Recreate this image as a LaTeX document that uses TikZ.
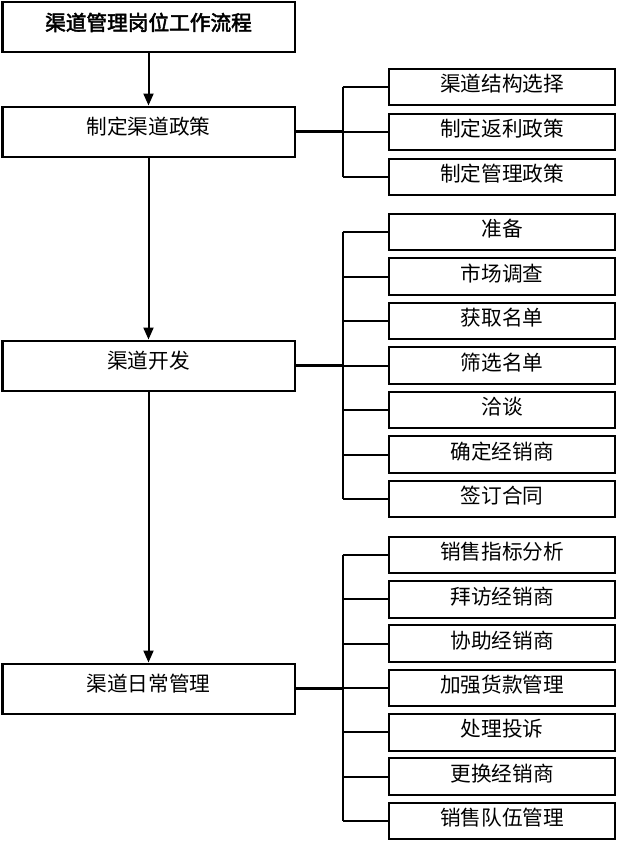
\documentclass[tikz,border=0pt]{standalone}
\usepackage{fontspec}
\newfontfamily\cjk{Noto Sans CJK SC}[AutoFakeBold=2.5]
\usetikzlibrary{arrows.meta,positioning}
\begin{document}
\begin{tikzpicture}[x=0.75pt,y=-0.75pt,
    mainbox/.style={draw,line width=1.5pt,minimum width=219pt,minimum height=37.5pt,inner sep=0pt,text height=12pt,text depth=7pt,font=\cjk\fontsize{15.5}{17}\selectfont},
    subbox/.style={draw,line width=1.5pt,minimum width=170pt,minimum height=27.5pt,inner sep=0pt,text height=12pt,text depth=5pt,font=\cjk\fontsize{15.5}{17}\selectfont},
    flow/.style={line width=1.5pt,-{Triangle[width=7.5pt,length=9pt]}},
    tee/.style={line width=2.25pt},
    branch/.style={line width=1.5pt}]
  \useasboundingbox (0,0) rectangle (618,843);
  %colonna principale
  \node[mainbox,font=\cjk\bfseries\fontsize{15.5}{17}\selectfont] (title) at (148.5,27) {渠道管理岗位工作流程};
  \node[mainbox] (policy) at (148.5,131.5) {制定渠道政策};
  \node[mainbox] (develop) at (148.5,365.5) {渠道开发};
  \node[mainbox] (daily) at (148.5,688.5) {渠道日常管理};
  \draw[flow] (title) -- (policy);
  \draw[flow] (policy) -- (develop);
  \draw[flow] (develop) -- (daily);
  %rami
  \foreach \t [count=\i] in {渠道结构选择,制定返利政策,制定管理政策}
    \node[subbox] (a\i) at (502,{87+45*(\i-1)}) {\t};
  \foreach \t [count=\i] in {准备,市场调查,获取名单,筛选名单,洽谈,确定经销商,签订合同}
    \node[subbox] (b\i) at (502,{232+44.5*(\i-1)}) {\t};
  \foreach \t [count=\i] in {销售指标分析,拜访经销商,协助经销商,加强货款管理,处理投诉,更换经销商,销售队伍管理}
    \node[subbox] (c\i) at (502,{555+44.33*(\i-1)}) {\t};
  %collegamenti
  \draw[tee] (policy.east) -- ++(47,0) coordinate (pj);
  \draw[branch] (pj |- a1.west) -- (pj |- a3.west);
  \foreach \i in {1,...,3} \draw[branch] (pj |- a\i.west) -- (a\i.west);
  \draw[tee] (develop.east) -- ++(47,0) coordinate (dj);
  \draw[branch] (dj |- b1.west) -- (dj |- b7.west);
  \foreach \i in {1,...,7} \draw[branch] (dj |- b\i.west) -- (b\i.west);
  \draw[tee] (daily.east) -- ++(47,0) coordinate (cj);
  \draw[branch] (cj |- c1.west) -- (cj |- c7.west);
  \foreach \i in {1,...,7} \draw[branch] (cj |- c\i.west) -- (c\i.west);
\end{tikzpicture}
\end{document}
